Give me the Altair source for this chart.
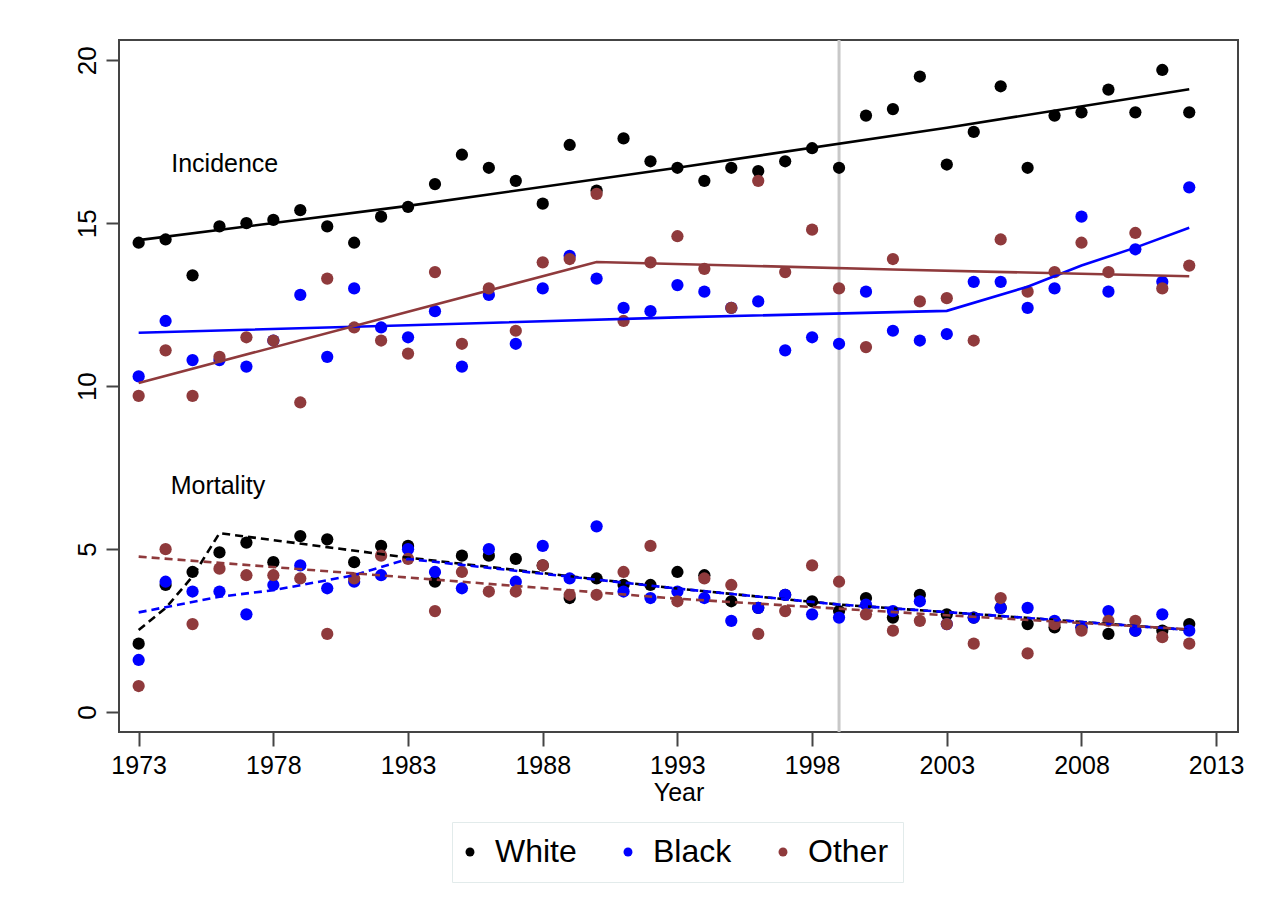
import altair as alt
import pandas as pd

years = list(range(1973, 2013))
races = ["White", "Black", "Other"]
race_colors = ["#000000", "#0000ff", "#8f3a3c"]

# Incidence (observed)
inc_white = [14.4, 14.5, 13.4, 14.9, 15.0, 15.1, 15.4, 14.9, 14.4, 15.2, 15.5,
             16.2, 17.1, 16.7, 16.3, 15.6, 17.4, 16.0, 17.6, 16.9, 16.7, 16.3,
             16.7, 16.6, 16.9, 17.3, 16.7, 18.3, 18.5, 19.5, 16.8, 17.8, 19.2,
             16.7, 18.3, 18.4, 19.1, 18.4, 19.7, 18.4]
inc_black = [10.3, 12.0, 10.8, 10.8, 10.6, 11.4, 12.8, 10.9, 13.0, 11.8, 11.5,
             12.3, 10.6, 12.8, 11.3, 13.0, 14.0, 13.3, 12.4, 12.3, 13.1, 12.9,
             12.4, 12.6, 11.1, 11.5, 11.3, 12.9, 11.7, 11.4, 11.6, 13.2, 13.2,
             12.4, 13.0, 15.2, 12.9, 14.2, 13.2, 16.1]
inc_other = [9.7, 11.1, 9.7, 10.9, 11.5, 11.4, 9.5, 13.3, 11.8, 11.4, 11.0,
             13.5, 11.3, 13.0, 11.7, 13.8, 13.9, 15.9, 12.0, 13.8, 14.6, 13.6,
             12.4, 16.3, 13.5, 14.8, 13.0, 11.2, 13.9, 12.6, 12.7, 11.4, 14.5,
             12.9, 13.5, 14.4, 13.5, 14.7, 13.0, 13.7]

# Mortality (observed)
mort_white = [2.1, 3.9, 4.3, 4.9, 5.2, 4.6, 5.4, 5.3, 4.6, 5.1, 5.1,
              4.0, 4.8, 4.8, 4.7, 4.5, 3.5, 4.1, 3.9, 3.9, 4.3, 4.2,
              3.4, 3.2, 3.6, 3.4, 3.1, 3.5, 2.9, 3.6, 3.0, 2.9, 3.2,
              2.7, 2.6, 2.6, 2.4, 2.5, 2.5, 2.7]
mort_black = [1.6, 4.0, 3.7, 3.7, 3.0, 3.9, 4.5, 3.8, 4.0, 4.2, 5.0,
              4.3, 3.8, 5.0, 4.0, 5.1, 4.1, 5.7, 3.7, 3.5, 3.7, 3.5,
              2.8, 3.2, 3.6, 3.0, 2.9, 3.3, 3.1, 3.4, 2.7, 2.9, 3.2,
              3.2, 2.8, 2.6, 3.1, 2.5, 3.0, 2.5]
mort_other = [0.8, 5.0, 2.7, 4.4, 4.2, 4.2, 4.1, 2.4, 4.1, 4.8, 4.7,
              3.1, 4.3, 3.7, 3.7, 4.5, 3.6, 3.6, 4.3, 5.1, 3.4, 4.1,
              3.9, 2.4, 3.1, 4.5, 4.0, 3.0, 2.5, 2.8, 2.7, 2.1, 3.5,
              1.8, 2.7, 2.5, 2.8, 2.8, 2.3, 2.1]

# Fitted (joinpoint) trends, read at selected years
fit_inc_white_years = [1973, 1983, 1993, 2003, 2012]
fit_inc_white = [14.48, 15.53, 16.70, 17.93, 19.11]
fit_inc_black_years = [1973, 1983, 1993, 2003, 2006, 2008, 2010, 2012]
fit_inc_black = [11.64, 11.87, 12.11, 12.31, 13.05, 13.70, 14.25, 14.86]
fit_inc_other_years = [1973, 1983, 1990, 2001, 2012]
fit_inc_other = [10.10, 12.28, 13.81, 13.58, 13.37]
fit_mort_white_years = [1973, 1974, 1975, 1976, 1983, 1993, 1999, 2005, 2012]
fit_mort_white = [2.52, 3.19, 4.16, 5.49, 4.74, 3.79, 3.30, 2.95, 2.52]
fit_mort_black_years = [1973, 1976, 1978, 1981, 1983, 1993, 1999, 2005, 2012]
fit_mort_black = [3.06, 3.54, 3.74, 4.20, 4.70, 3.79, 3.30, 2.95, 2.52]
fit_mort_other_years = [1973, 1983, 1993, 2003, 2012]
fit_mort_other = [4.77, 4.13, 3.48, 2.97, 2.54]

ref_year = [1999]
x_ticks = [1973, 1978, 1983, 1988, 1993, 1998, 2003, 2008, 2013]
y_ticks = [0, 5, 10, 15, 20]

ann_labels = ["Incidence", "Mortality"]
ann_years = [1974.21, 1974.19]
ann_values = [16.56, 6.70]

# ---- build tables ----
obs = {
    ("White", "Incidence"): inc_white, ("Black", "Incidence"): inc_black,
    ("Other", "Incidence"): inc_other, ("White", "Mortality"): mort_white,
    ("Black", "Mortality"): mort_black, ("Other", "Mortality"): mort_other,
}
rows = []
for (race, meas), vals in obs.items():
    for yr, v in zip(years, vals):
        rows.append({"year": yr, "value": v, "race": race, "measure": meas,
                     "z": races.index(race)})
pts = pd.DataFrame(rows)

fits = {
    ("White", "Incidence"): (fit_inc_white_years, fit_inc_white),
    ("Black", "Incidence"): (fit_inc_black_years, fit_inc_black),
    ("Other", "Incidence"): (fit_inc_other_years, fit_inc_other),
    ("White", "Mortality"): (fit_mort_white_years, fit_mort_white),
    ("Black", "Mortality"): (fit_mort_black_years, fit_mort_black),
    ("Other", "Mortality"): (fit_mort_other_years, fit_mort_other),
}
frows = []
for (race, meas), (yrs, vals) in fits.items():
    for yr, v in zip(yrs, vals):
        frows.append({"year": yr, "value": v, "race": race, "measure": meas,
                      "grp": race + meas})
fit = pd.DataFrame(frows)

ann = pd.DataFrame({"label": ann_labels, "year": ann_years, "value": ann_values})

FONT = "Liberation Sans"
xscale = alt.Scale(domain=[1972.27, 2013.81], nice=False, zero=False)
yscale = alt.Scale(domain=[-0.61, 20.62], nice=False, zero=False)

x_enc = alt.X("year:Q", scale=xscale,
              axis=alt.Axis(values=x_ticks, format="d", title="Year",
                            labelFontSize=25, labelFont=FONT, labelColor="black",
                            labelPadding=7, tickSize=14, tickWidth=2, tickColor="#444",
                            domain=False, grid=False, titleFontSize=25, titleFont=FONT,
                            titleFontWeight="normal", titleColor="black", titlePadding=2,
                            labelFlush=False))
y_enc = alt.Y("value:Q", scale=yscale,
              axis=alt.Axis(values=y_ticks, title=None, labelAngle=270,
                            labelAlign="center", labelBaseline="alphabetic",
                            labelFontSize=26, labelFont=FONT, labelColor="black",
                            labelPadding=11, tickSize=13, tickWidth=2, tickColor="#444",
                            domain=False, grid=False))

color_scale = alt.Scale(domain=races, range=race_colors)

rule = alt.Chart(pd.DataFrame({"year": ref_year})).mark_rule(
    color="#c8c8c8", strokeWidth=3).encode(x=alt.X("year:Q", scale=xscale))

points = alt.Chart(pts).mark_circle(size=150, opacity=1).encode(
    x=x_enc, y=y_enc,
    color=alt.Color("race:N", scale=color_scale, sort=races,
                    legend=alt.Legend(orient="none", legendX=333, legendY=782,
                                      direction="horizontal", title=None,
                                      labelFontSize=32, labelFont=FONT,
                                      labelColor="black",
                                      symbolSize=80, symbolType="circle",
                                      symbolStrokeWidth=0, strokeColor="#e2ebeb",
                                      fillColor="white", padding=14,
                                      columnPadding=46, labelOffset=9,
                                      symbolOffset=-12)),
    order=alt.Order("z:Q"),
)

inc_lines = alt.Chart(fit[fit.measure == "Incidence"]).mark_line(strokeWidth=2.6).encode(
    x=alt.X("year:Q", scale=xscale), y=alt.Y("value:Q", scale=yscale),
    color=alt.Color("race:N", scale=color_scale, legend=None),
    detail="grp:N",
)
mort_lines = alt.Chart(fit[fit.measure == "Mortality"]).mark_line(
    strokeWidth=2.6, strokeDash=[8, 5]).encode(
    x=alt.X("year:Q", scale=xscale), y=alt.Y("value:Q", scale=yscale),
    color=alt.Color("race:N", scale=color_scale, legend=None),
    detail="grp:N",
)

texts = alt.Chart(ann).mark_text(align="left", baseline="alphabetic", fontSize=25,
                                 font=FONT, color="black").encode(
    x=alt.X("year:Q", scale=xscale), y=alt.Y("value:Q", scale=yscale), text="label:N")

chart = alt.layer(rule, points, inc_lines, mort_lines, texts).properties(
    width=1119, height=692,
    padding={"left": 65, "top": 30, "right": 20, "bottom": 20},
).configure(background="white").configure_view(stroke="#444", strokeWidth=2)

chart.save("out.html", embed_options={"renderer": "svg", "actions": False})
